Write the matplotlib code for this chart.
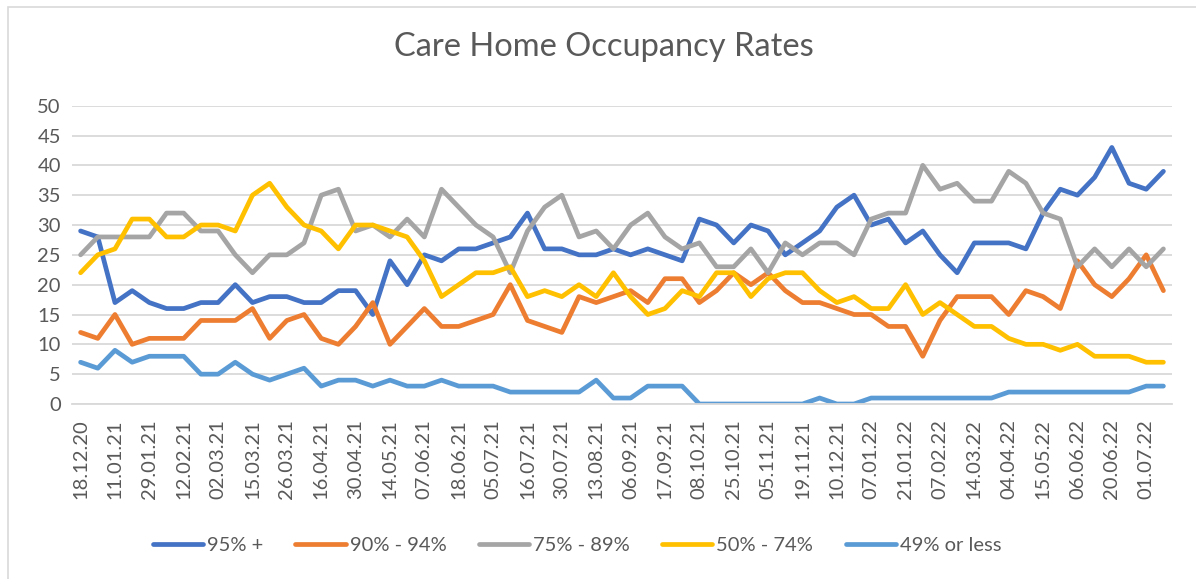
from matplotlib import pyplot as plt
from matplotlib.patches import Rectangle
import numpy as np

plt.rcParams['font.family'] = ['Lato', 'DejaVu Sans']

dates = ["18.12.20", "11.01.21", "29.01.21", "12.02.21", "02.03.21", "15.03.21",
         "26.03.21", "16.04.21", "30.04.21", "14.05.21", "07.06.21", "18.06.21",
         "05.07.21", "16.07.21", "30.07.21", "13.08.21", "06.09.21", "17.09.21",
         "08.10.21", "25.10.21", "05.11.21", "19.11.21", "10.12.21", "07.01.22",
         "21.01.22", "07.02.22", "14.03.22", "04.04.22", "15.05.22", "06.06.22",
         "20.06.22", "01.07.22"]

s95 = [29, 28, 17, 19, 17, 16, 16, 17, 17, 20, 17, 18, 18, 17, 17, 19, 19, 15, 24, 20,
       25, 24, 26, 26, 27, 28, 32, 26, 26, 25, 25, 26, 25, 26, 25, 24, 31, 30, 27, 30,
       29, 25, 27, 29, 33, 35, 30, 31, 27, 29, 25, 22, 27, 27, 27, 26, 32, 36, 35, 38,
       43, 37, 36, 39]
s90 = [12, 11, 15, 10, 11, 11, 11, 14, 14, 14, 16, 11, 14, 15, 11, 10, 13, 17, 10, 13,
       16, 13, 13, 14, 15, 20, 14, 13, 12, 18, 17, 18, 19, 17, 21, 21, 17, 19, 22, 20,
       22, 19, 17, 17, 16, 15, 15, 13, 13, 8, 14, 18, 18, 18, 15, 19, 18, 16, 24, 20,
       18, 21, 25, 19]
s75 = [25, 28, 28, 28, 28, 32, 32, 29, 29, 25, 22, 25, 25, 27, 35, 36, 29, 30, 28, 31,
       28, 36, 33, 30, 28, 22, 29, 33, 35, 28, 29, 26, 30, 32, 28, 26, 27, 23, 23, 26,
       22, 27, 25, 27, 27, 25, 31, 32, 32, 40, 36, 37, 34, 34, 39, 37, 32, 31, 23, 26,
       23, 26, 23, 26]
s50 = [22, 25, 26, 31, 31, 28, 28, 30, 30, 29, 35, 37, 33, 30, 29, 26, 30, 30, 29, 28,
       24, 18, 20, 22, 22, 23, 18, 19, 18, 20, 18, 22, 18, 15, 16, 19, 18, 22, 22, 18,
       21, 22, 22, 19, 17, 18, 16, 16, 20, 15, 17, 15, 13, 13, 11, 10, 10, 9, 10, 8,
       8, 8, 7, 7]
s49 = [7, 6, 9, 7, 8, 8, 8, 5, 5, 7, 5, 4, 5, 6, 3, 4, 4, 3, 4, 3,
       3, 4, 3, 3, 3, 2, 2, 2, 2, 2, 4, 1, 1, 3, 3, 3, 0, 0, 0, 0,
       0, 0, 0, 1, 0, 0, 1, 1, 1, 1, 1, 1, 1, 1, 2, 2, 2, 2, 2, 2,
       2, 2, 3, 3]

series = [("95% +", s95, "#4472C4"), ("90% - 94%", s90, "#ED7D31"),
          ("75% - 89%", s75, "#A5A5A5"), ("50% - 74%", s50, "#FFC000"),
          ("49% or less", s49, "#5B9BD5")]

fig = plt.figure(figsize=(11.96, 5.79), dpi=100)
ax = fig.add_axes([72/1196, 1 - 404/579, 1100/1196, (404 - 105.7)/579])

X = np.arange(len(s95))
for name, vals, col in series:
    ax.plot(X, vals, color=col, lw=3.4, label=name,
            solid_capstyle='round', solid_joinstyle='round')

ax.set_xlim(-0.5, len(s95) - 0.5)
ax.set_ylim(0, 50)
ax.set_yticks(np.arange(0, 51, 5))
ax.set_xticks(np.arange(0, len(s95), 2))
ax.set_xticklabels(dates, rotation=90)
ax.yaxis.grid(True, color="#D9D9D9", lw=1.3)
ax.set_axisbelow(True)
for sp in ["top", "right", "left"]:
    ax.spines[sp].set_visible(False)
ax.spines["bottom"].set_color("#D9D9D9")
ax.spines["bottom"].set_linewidth(1.3)
ax.tick_params(axis="both", length=0, labelsize=14.5, colors="#595959")
ax.tick_params(axis="y", pad=8)
ax.tick_params(axis="x", pad=11)

fig.text(604/1196, 1 - 56/579, "Care Home Occupancy Rates", ha="center",
         va="baseline", fontsize=23.5, color="#595959")

fig.legend(loc="center", bbox_to_anchor=(577/1196, 1 - 545/579), ncol=5,
           frameon=False, fontsize=14.5, handlelength=2.5, handletextpad=0.2,
           columnspacing=1.6, labelcolor="#595959")

fig.patches.append(Rectangle((8/1196, -0.1), 1.2, 1 - 7/579 + 0.1,
                             transform=fig.transFigure, fill=False,
                             edgecolor="#D9D9D9", lw=1.2))

fig.savefig("out.png", dpi=100)
